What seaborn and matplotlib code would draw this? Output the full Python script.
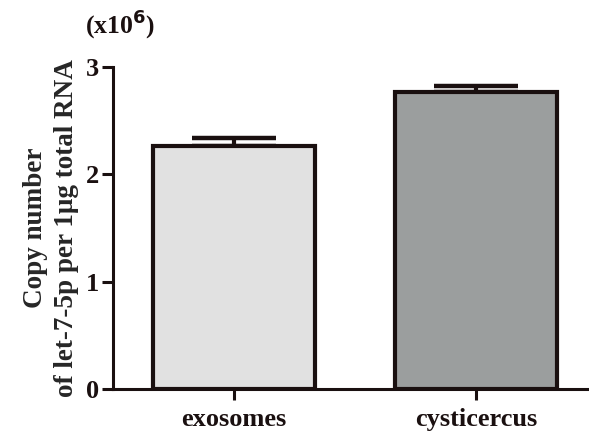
import matplotlib
matplotlib.use("Agg")
import matplotlib.pyplot as plt
import seaborn as sns
import pandas as pd

categories = ["exosomes", "cysticercus"]
values = [2.26, 2.77]
errors = [0.08, 0.05]
colors = ["#e1e1e1", "#9a9e9e"]

sns.set_style("ticks")
plt.rcParams['font.family'] = ['Liberation Serif', 'DejaVu Serif']
plt.rcParams['font.weight'] = 'bold'

fig = plt.figure(figsize=(5.89, 4.34), dpi=100)
ax = fig.add_axes([0.192, 0.1037, 0.808, 0.7419])

df = pd.DataFrame({"cat": categories, "val": values})
edge = "#1a1010"
sns.barplot(data=df, x="cat", y="val", hue="cat", palette=colors, legend=False,
            width=0.67, edgecolor=edge, linewidth=3, ax=ax, errorbar=None, zorder=2)

ax.errorbar(range(len(categories)), values, yerr=[[0]*len(errors), errors],
            fmt="none", ecolor=edge, elinewidth=3, capsize=30, capthick=3.2, zorder=1)

ax.set_ylim(0, 3)
ax.set_xlim(-0.5, 1.467)
ax.set_yticks([0, 1, 2, 3])
ax.set_yticklabels(["0", "1", "2", "3"], fontsize=19, fontweight="bold")
ax.set_xticks([0, 1])
ax.set_xticklabels(categories, fontsize=19, fontweight="bold")
ax.set_xlabel("")
ax.set_ylabel("Copy number\nof let-7-5p per 1μg total RNA", fontsize=19.5,
              fontweight="bold", linespacing=1.3)
ax.yaxis.set_label_coords(-0.072, 0.5)
for s in ["top", "right"]:
    ax.spines[s].set_visible(False)
for s in ["left", "bottom"]:
    ax.spines[s].set_linewidth(2.2)
    ax.spines[s].set_color(edge)
ax.tick_params(axis="both", width=2.2, length=8, color=edge, labelcolor=edge, pad=2)
ax.tick_params(axis="x", pad=6)
ax.text(0.088, 1.08, "(x10$^{\\mathbf{6}}$)", transform=ax.transAxes, ha="right", va="bottom",
        fontsize=18.5, fontweight="bold", color=edge)

fig.savefig("out.png", dpi=100)
